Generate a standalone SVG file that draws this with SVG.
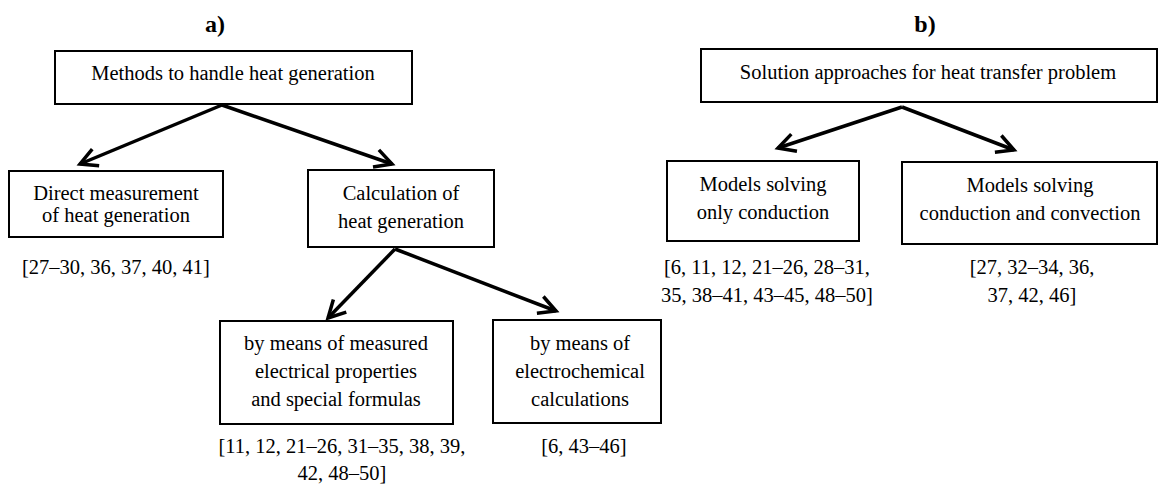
<svg xmlns="http://www.w3.org/2000/svg" width="1175" height="485" viewBox="0 0 1175 485">
<style>
.box{fill:#fff;stroke:#000;stroke-width:2}
.t{font-family:"Times New Roman","Liberation Serif","DejaVu Serif",serif;font-size:20.5px;fill:#000;text-anchor:middle}
.lbl{font-family:"Times New Roman","Liberation Serif","DejaVu Serif",serif;font-size:24px;font-weight:bold;fill:#000;text-anchor:middle}
.c{stroke:#000;stroke-width:3.5;fill:none}
</style>
<defs>
<marker id="ah" viewBox="-20 -12 24 24" refX="0" refY="0" markerWidth="24" markerHeight="24" markerUnits="userSpaceOnUse" orient="auto">
<path d="M-17,-9 L0,0 L-17,9" fill="none" stroke="#000" stroke-width="3.5" stroke-linejoin="miter"/>
</marker>
</defs>
<text class="lbl" x="215" y="32">a)</text>
<text class="lbl" x="925" y="32">b)</text>
<g id="connectors">
<line class="c" x1="222" y1="105" x2="80" y2="164" marker-end="url(#ah)"/>
<line class="c" x1="222" y1="105" x2="392" y2="164" marker-end="url(#ah)"/>
<line class="c" x1="395" y1="249" x2="328" y2="318" marker-end="url(#ah)"/>
<line class="c" x1="395" y1="249" x2="556" y2="311" marker-end="url(#ah)"/>
<line class="c" x1="902" y1="107" x2="778" y2="148" marker-end="url(#ah)"/>
<line class="c" x1="902" y1="107" x2="1014" y2="150" marker-end="url(#ah)"/>
</g>
<g id="n-methods">
<rect class="box" x="55" y="51" width="357" height="53"/>
<text class="t" x="233" y="80">Methods to handle heat generation</text>
</g>
<g id="n-direct">
<rect class="box" x="9" y="171" width="214" height="66"/>
<text class="t" x="116" y="200">Direct measurement</text>
<text class="t" x="116" y="222">of heat generation</text>
<text class="t" x="116" y="274">[27–30, 36, 37, 40, 41]</text>
</g>
<g id="n-calc">
<rect class="box" x="308" y="170" width="186" height="77"/>
<text class="t" x="401" y="200">Calculation of</text>
<text class="t" x="401" y="228">heat generation</text>
</g>
<g id="n-measured">
<rect class="box" x="220" y="321" width="233" height="103"/>
<text class="t" x="336" y="350">by means of measured</text>
<text class="t" x="336" y="378">electrical properties</text>
<text class="t" x="336" y="406">and special formulas</text>
<text class="t" x="342" y="453">[11, 12, 21–26, 31–35, 38, 39,</text>
<text class="t" x="342" y="480">42, 48–50]</text>
</g>
<g id="n-electro">
<rect class="box" x="493" y="320" width="168" height="103"/>
<text class="t" x="580" y="350">by means of</text>
<text class="t" x="580" y="378">electrochemical</text>
<text class="t" x="580" y="406">calculations</text>
<text class="t" x="584" y="453">[6, 43–46]</text>
</g>
<g id="n-solution">
<rect class="box" x="701" y="49" width="456" height="53"/>
<text class="t" x="928" y="79">Solution approaches for heat transfer problem</text>
</g>
<g id="n-conduction">
<rect class="box" x="667" y="161" width="192" height="80"/>
<text class="t" x="763" y="191">Models solving</text>
<text class="t" x="763" y="219">only conduction</text>
<text class="t" x="767" y="274">[6, 11, 12, 21–26, 28–31,</text>
<text class="t" x="767" y="302">35, 38–41, 43–45, 48–50]</text>
</g>
<g id="n-convection">
<rect class="box" x="902" y="162" width="255" height="82"/>
<text class="t" x="1030" y="192">Models solving</text>
<text class="t" x="1030" y="220">conduction and convection</text>
<text class="t" x="1032" y="274">[27, 32–34, 36,</text>
<text class="t" x="1032" y="302">37, 42, 46]</text>
</g>
</svg>
